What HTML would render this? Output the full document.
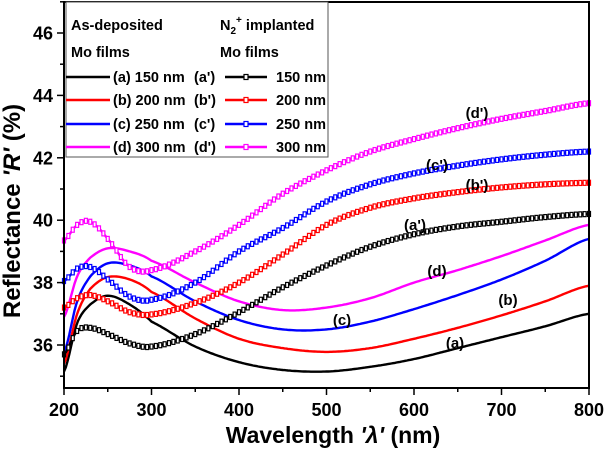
<!DOCTYPE html>
<html><head><meta charset="utf-8"><style>
body{margin:0;background:#fff;}
svg{display:block;font-family:"Liberation Sans",Arial,sans-serif;font-weight:bold;}
</style></head><body>
<svg id="chart" width="605" height="450" viewBox="0 0 605 450" xmlns="http://www.w3.org/2000/svg">
<g id="plot"></g>
</svg>
<script>
const wl = [200,215,230,250,275,300,350,400,450,500,550,600,650,700,750,800];
const seriesA = [35.15,36.7,37.3,37.58,37.3,36.75,35.95,35.45,35.2,35.15,35.3,35.55,35.9,36.25,36.6,37.0];
const seriesB = [35.4,37.0,37.8,38.18,38.1,37.7,36.85,36.2,35.9,35.78,35.9,36.2,36.55,36.95,37.4,37.9];
const seriesC = [35.75,37.4,38.2,38.62,38.55,38.2,37.4,36.8,36.5,36.5,36.75,37.15,37.6,38.1,38.7,39.4];
const seriesD = [36.9,38.2,38.8,39.1,39.0,38.7,38.0,37.4,37.12,37.2,37.5,38.0,38.4,38.85,39.35,39.85];
const seriesA2 = [35.7,36.45,36.55,36.35,36.05,35.95,36.35,37.05,37.85,38.55,39.15,39.55,39.8,39.95,40.1,40.2];
const seriesB2 = [37.2,37.5,37.6,37.4,37.05,36.98,37.35,38.0,38.9,39.85,40.4,40.7,40.9,41.05,41.15,41.2];
const seriesC2 = [38.05,38.45,38.5,38.1,37.55,37.45,38.0,39.0,39.75,40.6,41.15,41.5,41.75,41.95,42.1,42.2];
const seriesD2 = [39.35,39.85,39.95,39.4,38.5,38.4,39.0,39.85,40.85,41.6,42.2,42.6,42.95,43.25,43.5,43.75];
const xTicks = [200,300,400,500,600,700,800];
const yTicks = [36,38,40,42,44,46];

const X0=64,X1=589,Y0=388,Y1=2;
const xs=v=>X0+(v-200)/600*(X1-X0);
const ys=v=>345-(v-36)*31.2;
const NS="http://www.w3.org/2000/svg";
const g=document.getElementById('plot');
function mk(t,a){const e=document.createElementNS(NS,t);for(const k in a)e.setAttribute(k,a[k]);g.appendChild(e);return e;}
function interp(arr,x){let i=0;while(i<wl.length-2&&x>wl[i+1])i++;
 const p0=arr[Math.max(i-1,0)],p1=arr[i],p2=arr[i+1],p3=arr[Math.min(i+2,arr.length-1)];
 const t=(x-wl[i])/(wl[i+1]-wl[i]);const t2=t*t,t3=t2*t;
 return 0.5*((2*p1)+(-p0+p2)*t+(2*p0-5*p1+4*p2-p3)*t2+(-p0+3*p1-3*p2+p3)*t3);}
function curve(arr,color,name,markers){
 let d='';for(let x=200;x<=800;x+=2){d+=(x===200?'M':'L')+xs(x).toFixed(1)+','+ys(interp(arr,x)).toFixed(1);}
 const p=mk('path',{d:d,fill:'none',stroke:color,'stroke-width':2.4});
 
 
 if(markers){for(let x=200;x<=800;x+=5){const r=mk('rect',{x:xs(x)-1.5,y:ys(interp(arr,x))-2.5,width:3,height:5,fill:'#fff',stroke:color,'stroke-width':1.2});
  
  }}
}
curve(seriesA,'#000','curve-a',false);
curve(seriesB,'#f00','curve-b',false);
curve(seriesC,'#00f','curve-c',false);
curve(seriesD,'#f0f','curve-d',false);
curve(seriesA2,'#000','curve-a-prime',true);
curve(seriesB2,'#f00','curve-b-prime',true);
curve(seriesC2,'#00f','curve-c-prime',true);
curve(seriesD2,'#f0f','curve-d-prime',true);
const fr=mk('rect',{x:X0,y:Y1,width:X1-X0,height:Y0-Y1,fill:'none',stroke:'#000','stroke-width':2});


for(let v=200;v<=800;v+=50){const l=mk('line',{x1:xs(v),x2:xs(v),y1:Y0,y2:Y0+(v%100?4:7),stroke:'#000','stroke-width':1.5});
 
 }
xTicks.forEach(v=>{const t=mk('text',{x:xs(v),y:416,'text-anchor':'middle','font-size':18});t.textContent=v;
 
 });
for(let v=35;v<=47;v++){const l=mk('line',{x1:X0,x2:X0-(v%2?4:7),y1:ys(v),y2:ys(v),stroke:'#000','stroke-width':1.5});
 
 }
yTicks.forEach(v=>{const t=mk('text',{x:53,y:ys(v)+6.5,'text-anchor':'end','font-size':18});t.textContent=v;
 
 });
const xt=mk('text',{x:333,y:443,'text-anchor':'middle','font-size':23});xt.innerHTML="Wavelength <tspan font-style='italic'>'λ'</tspan> (nm)";


const yt=mk('text',{x:0,y:0,'text-anchor':'middle','font-size':24,transform:'translate(20,211) rotate(-90)'});yt.innerHTML="Reflectance <tspan font-style='italic'>'R'</tspan> (%)";


[["(d')",477,118],["(c')",437,170],["(b')",477,190],["(a')",415,230],["(d)",437,276],["(c)",342,325],["(b)",508,305],["(a)",455,348]].forEach(a=>{
 const t=mk('text',{x:a[1],y:a[2],'text-anchor':'middle','font-size':15});t.textContent=a[0];
 
 });
const lb=mk('rect',{x:66,y:2,width:262,height:155,fill:'#fff',stroke:'#555','stroke-width':1});


function lt(x,y,s,anchor){const t=mk('text',{x:x,y:y,'font-size':14.5,'text-anchor':anchor||'start'});t.innerHTML=s;
 
 return t;}
lt(71,30,'As-deposited');lt(71,57,'Mo films');
lt(220,30,'N<tspan font-size="10" dy="4">2</tspan><tspan font-size="10" dy="-11">+</tspan><tspan dy="7"> implanted</tspan>');lt(220,57,'Mo films');
const cols=['#000','#f00','#00f','#f0f'],labs=['a','b','c','d'],nms=['150','200','250','300'];
const rowY=[77,100,124,147];
cols.forEach((c,i)=>{const y=rowY[i];
 const l=mk('line',{x1:66,x2:110,y1:y,y2:y,stroke:c,'stroke-width':2.4});
 
 
 lt(113,y+5,'('+labs[i]+') '+nms[i]+' nm');
 lt(194,y+5,"("+labs[i]+"')");
 const l2=mk('line',{x1:225,x2:267,y1:y,y2:y,stroke:c,'stroke-width':2.4});
 
 
 const r=mk('rect',{x:244,y:y-2.5,width:4,height:5,fill:'#fff',stroke:c,'stroke-width':1.2});
 
 
 lt(326,y+5,nms[i]+' nm','end');});
</script>
</body></html>
